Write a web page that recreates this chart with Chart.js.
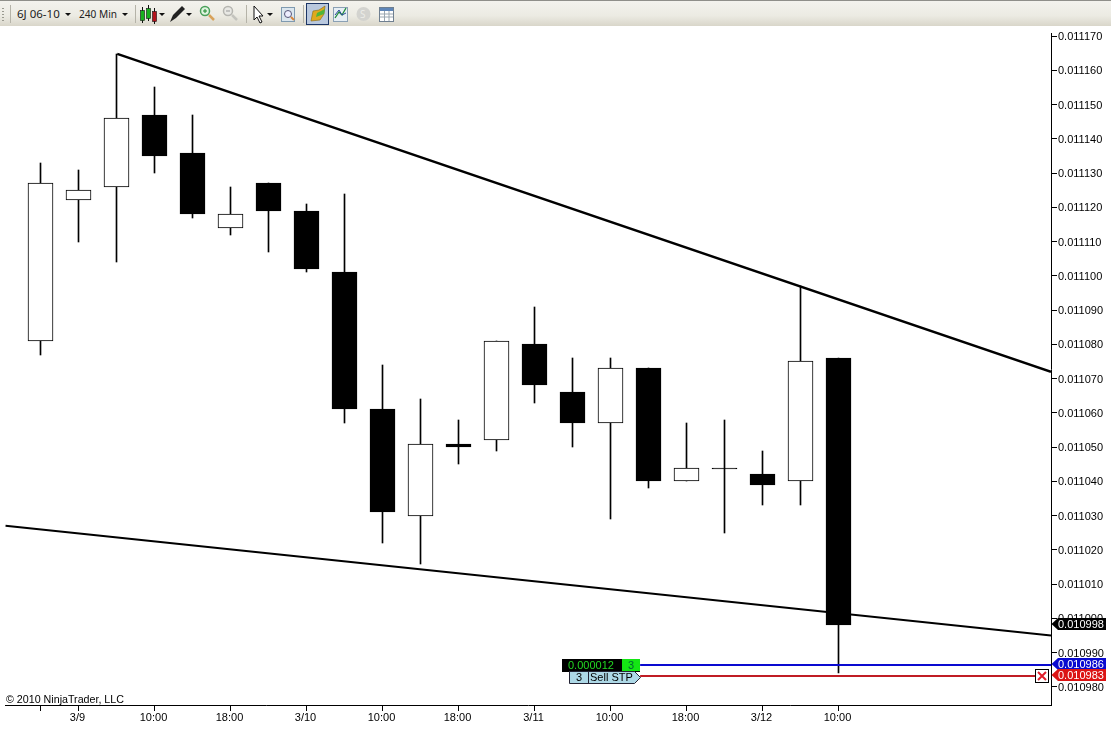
<!DOCTYPE html>
<html>
<head>
<meta charset="utf-8">
<title>6J 06-10 240 Min</title>
<script src="https://cdn.jsdelivr.net/npm/chart.js@4"></script>
<style>
  html, body { margin: 0; padding: 0; background: #fff; overflow: hidden; }
  #wrap { position: relative; width: 1111px; height: 730px; }
  #toolbar { position: absolute; left: 0; top: 0; }
  #priceChart { position: absolute; left: 0; top: 0; }
</style>
</head>
<body>
<div id="wrap">
  <canvas id="priceChart" width="1111" height="730"></canvas>
  <svg id="toolbar" width="1111" height="27" font-family="'Noto Sans','Liberation Sans',sans-serif" font-size="11.5">
    <defs>
      <linearGradient id="barBg" x1="0" y1="0" x2="0" y2="1">
        <stop offset="0" stop-color="#f4f3ee"/>
        <stop offset="0.6" stop-color="#ecebe3"/>
        <stop offset="1" stop-color="#d9d6ca"/>
      </linearGradient>
    </defs>
    <rect width="1111" height="26" fill="url(#barBg)"/>
    <rect width="1111" height="1" fill="#8f8f8a"/>
    <path d="M3 8v1M3 11v1M3 14v1M3 17v1M3 20v1" stroke="#9a9a90" stroke-width="2"/>
    <path d="M10.5 5v18M135.5 5v18M246.5 5v18M303.5 5v18" stroke="#b5b3a8"/>
    <text x="17" y="18" fill="#222">6J 06-10</text>
    <path d="M65 13h6l-3 3z" fill="#111"/>
    <text x="79" y="18" fill="#222" textLength="38" lengthAdjust="spacingAndGlyphs">240 Min</text>
    <path d="M122 13h6l-3 3z" fill="#111"/>
    <path d="M142.500 7v16M148.500 5v16M154.500 8v16" stroke="#111"/>
    <rect x="140.500" y="10.500" width="4" height="10" fill="#17b11d" stroke="#111" stroke-width=".6"/>
    <rect x="146.500" y="8.500" width="4" height="10" fill="#17b11d" stroke="#111" stroke-width=".6"/>
    <rect x="152.500" y="11.500" width="4" height="10" fill="#b3141c" stroke="#111" stroke-width=".6"/>
    <path d="M159 13h6l-3 3z" fill="#111"/>
    <path d="M170 22l3-7 9-9 3 3-9 9z" fill="#222"/>
    <path d="M186 13h6l-3 3z" fill="#111"/>
    <circle cx="205" cy="11" r="4.500" fill="#dff3df" stroke="#4aa05a" stroke-width="1.500"/>
    <path d="M203 11h4M205 9v4" stroke="#1c8a2c"/>
    <path d="M209 15l5 5" stroke="#d8a25a" stroke-width="2.500"/>
    <circle cx="228" cy="11" r="4.500" fill="#e8e8e4" stroke="#b5b5b0" stroke-width="1.500"/>
    <path d="M226 11h4" stroke="#999"/>
    <path d="M232 15l5 5" stroke="#c4c4be" stroke-width="2.500"/>
    <path d="M254 6v14l3-3 3 6 2-1-3-6h4z" fill="#fff" stroke="#111"/>
    <path d="M267 13h6l-3 3z" fill="#111"/>
    <rect x="281.500" y="7.500" width="13" height="14" fill="#dbe6ee" stroke="#7f9ab0"/>
    <circle cx="288" cy="14" r="3.500" fill="#eef" stroke="#557"/>
    <path d="M291 17l3 3" stroke="#d8853a" stroke-width="2"/>
    <rect x="306.500" y="3.500" width="22" height="21" fill="#b9c8de" stroke="#1c3566"/>
    <path d="M311 21l2-10 6-1 6-4-1 8-4 6z" fill="#e0a91e" stroke="#8a6a10" stroke-width=".6"/>
    <path d="M317 13l8-4-1 5-8 3z" fill="#4fb53a"/>
    <rect x="333.500" y="7.500" width="14" height="14" fill="#e6eef4" stroke="#8aa0b4"/>
    <path d="M335 18l4-6 3 3 4-7" fill="none" stroke="#1f8a3a" stroke-width="1.300"/>
    <path d="M335 15l4-5 3 5 4-2" fill="none" stroke="#2a4a9a"/>
    <circle cx="363.500" cy="14" r="7" fill="#d3d3cf"/>
    <text x="360" y="18" fill="#ecece8" font-size="10">S</text>
    <rect x="379.500" y="7.500" width="14" height="14" fill="#fff" stroke="#6f7f90"/>
    <rect x="380" y="8" width="13" height="3" fill="#5f86b8"/>
    <path d="M380 14h13M380 17h13M384.500 11v10M389 11v10" stroke="#9aa6b0"/>
  </svg>
</div>
<script>
// bar positions along the time axis
const candleIndex = [0, 1, 2, 3, 4, 5, 6, 7, 8, 9, 10, 11, 12, 13, 14, 15, 16, 17, 18, 19, 20, 21];

const opens  = [0.011081, 0.011122, 0.011126, 0.011147, 0.011136, 0.011114, 0.011127, 0.011119, 0.011101, 0.011061, 0.011030, 0.011051, 0.011052, 0.011080, 0.011066, 0.011057, 0.011073, 0.011040, 0.011044, 0.011042, 0.011040, 0.011076];
const closes = [0.011127, 0.011125, 0.011146, 0.011135, 0.011118, 0.011118, 0.011119, 0.011102, 0.011061, 0.011031, 0.011051, 0.011050, 0.011081, 0.011068, 0.011057, 0.011073, 0.011040, 0.011044, 0.011044, 0.011039, 0.011075, 0.010998];
const highs  = [0.011133, 0.011131, 0.0111648, 0.011155, 0.011147, 0.011126, 0.011127, 0.011121, 0.011124, 0.011074, 0.011064, 0.011058, 0.011081, 0.011091, 0.011076, 0.011076, 0.011073, 0.011057, 0.011058, 0.011049, 0.011097, 0.011076];
const lows   = [0.011077, 0.011110, 0.011104, 0.011130, 0.011117, 0.011112, 0.011107, 0.011101, 0.011057, 0.011022, 0.011016, 0.011045, 0.011049, 0.011063, 0.011050, 0.011029, 0.011038, 0.011040, 0.011025, 0.011033, 0.011033, 0.010984];

const xTickIndex  = [0, 1, 3, 5, 7, 9, 11, 13, 15, 17, 19, 21];
const xTickLabels = ['', '3/9', '10:00', '18:00', '3/10', '10:00', '18:00', '3/11', '10:00', '18:00', '3/12', '10:00'];
const yTickValues = [0.01117, 0.01116, 0.01115, 0.01114, 0.01113, 0.01112, 0.01111, 0.0111, 0.01109, 0.01108, 0.01107, 0.01106, 0.01105, 0.01104, 0.01103, 0.01102, 0.01101, 0.011, 0.01099, 0.01098];

// trend lines drawn on the chart
const upperTrendX = [2.02, 26.592];
const upperTrendY = [0.0111648, 0.011072];
const lowerTrendX = [-0.92, 26.592];
const lowerTrendY = [0.011027, 0.010995];

// working orders
const stopX = [15.78, 26.592];
const stopY = [0.0109864, 0.0109864];
const sellX = [15.78, 26.2];
const sellY = [0.0109832, 0.0109832];

const lastPrice = 0.010998;
const priceFlags = [
  { value: stopY[0], label: '0.010986', color: '#0a0ad0' },
  { value: sellY[0], label: '0.010983', color: '#dc1414' },
  { value: lastPrice, label: '0.010998', color: '#000000' }
];
const orderPnl = '0.000012';
const orderQty = '3';
const orderName = 'Sell STP';

function pairs(xs, ys) {
  return xs.map((x, i) => ({ x: x, y: ys[i] }));
}

const fontName = "'Liberation Sans', Arial, sans-serif";

// keep candle edges on whole pixels so they stay crisp
const crispBarsPlugin = {
  id: 'crispBars',
  afterDatasetsUpdate(chart) {
    chart.getSortedVisibleDatasetMetas().forEach(meta => {
      if (meta.type !== 'bar') return;
      meta.data.forEach(bar => {
        bar.y = Math.round(bar.y);
        bar.base = Math.round(bar.base);
        if (bar.y === bar.base) bar.base = bar.y + 1;
      });
    });
  }
};

// price flags, order boxes and the copyright line
const overlayPlugin = {
  id: 'overlay',
  afterDraw(chart) {
    const ctx = chart.ctx;
    const yScale = chart.scales.y;
    const xScale = chart.scales.x;
    const area = chart.chartArea;
    ctx.save();

    ctx.font = '10.7px ' + fontName;
    ctx.fillStyle = '#000';
    ctx.textBaseline = 'alphabetic';
    ctx.textAlign = 'left';
    ctx.fillText('\u00A9 2010 NinjaTrader, LLC', 6, 703);

    priceFlags.forEach(flag => {
      const y = Math.round(yScale.getPixelForValue(flag.value)) - 1;
      ctx.fillStyle = flag.color;
      ctx.beginPath();
      ctx.moveTo(area.right + 0.5, y);
      ctx.lineTo(area.right + 7, y - 6);
      ctx.lineTo(1106, y - 6);
      ctx.lineTo(1106, y + 6);
      ctx.lineTo(area.right + 7, y + 6);
      ctx.closePath();
      ctx.fill();
      ctx.fillStyle = '#fff';
      ctx.font = '11px ' + fontName;
      ctx.textAlign = 'left';
      ctx.textBaseline = 'middle';
      ctx.fillText(flag.label, 1058, y + 1);
    });

    const stopPx = Math.round(yScale.getPixelForValue(stopY[0]));
    const sellPx = Math.round(yScale.getPixelForValue(sellY[0]));
    const boxRight = Math.round(xScale.getPixelForValue(stopX[0]));

    // pnl box on the stop line
    ctx.fillStyle = '#000';
    ctx.fillRect(boxRight - 78, stopPx - 6, 78, 13);
    ctx.fillStyle = '#14e614';
    ctx.fillRect(boxRight - 18, stopPx - 6, 18, 12);
    ctx.fillStyle = '#22d622';
    ctx.textBaseline = 'middle';
    ctx.textAlign = 'left';
    ctx.fillText(orderPnl, boxRight - 72, stopPx + 1);
    ctx.fillStyle = '#063';
    ctx.textAlign = 'center';
    ctx.fillText(orderQty, boxRight - 9, stopPx + 1);

    // order box on the sell line
    ctx.fillStyle = '#add8e6';
    ctx.strokeStyle = '#223';
    ctx.lineWidth = 1;
    ctx.beginPath();
    ctx.moveTo(boxRight - 70.5, sellPx - 4.5);
    ctx.lineTo(boxRight - 5.5, sellPx - 4.5);
    ctx.lineTo(boxRight + 0.5, sellPx + 1.5);
    ctx.lineTo(boxRight - 5.5, sellPx + 7.5);
    ctx.lineTo(boxRight - 70.5, sellPx + 7.5);
    ctx.closePath();
    ctx.fill();
    ctx.stroke();
    ctx.beginPath();
    ctx.moveTo(boxRight - 51.5, sellPx - 4.5);
    ctx.lineTo(boxRight - 51.5, sellPx + 7.5);
    ctx.stroke();
    ctx.fillStyle = '#000';
    ctx.textAlign = 'center';
    ctx.fillText(orderQty, boxRight - 61, sellPx + 2);
    ctx.textAlign = 'left';
    ctx.fillText(orderName, boxRight - 50, sellPx + 2);

    // close button at the end of the sell line
    const cx = 1042;
    ctx.fillStyle = '#fff';
    ctx.strokeStyle = '#000';
    ctx.fillRect(cx - 6.5, sellPx - 6.5, 13, 13);
    ctx.strokeRect(cx - 6.5, sellPx - 6.5, 13, 13);
    ctx.strokeStyle = '#e01e2a';
    ctx.lineWidth = 2;
    ctx.beginPath();
    ctx.moveTo(cx - 4, sellPx - 4);
    ctx.lineTo(cx + 4, sellPx + 4);
    ctx.moveTo(cx + 4, sellPx - 4);
    ctx.lineTo(cx - 4, sellPx + 4);
    ctx.stroke();

    ctx.restore();
  }
};

function drawChart() {
  const ctx = document.getElementById('priceChart').getContext('2d');
  new Chart(ctx, {
    type: 'bar',
    plugins: [crispBarsPlugin, overlayPlugin],
    data: {
      datasets: [
        {
          type: 'line',
          label: 'Upper trend',
          data: pairs(upperTrendX, upperTrendY),
          borderColor: '#000',
          borderWidth: 2.5,
          pointRadius: 0,
          order: 1
        },
        {
          type: 'line',
          label: 'Lower trend',
          data: pairs(lowerTrendX, lowerTrendY),
          borderColor: '#000',
          borderWidth: 2,
          pointRadius: 0,
          order: 1
        },
        {
          type: 'line',
          label: 'Stop',
          data: pairs(stopX, stopY),
          borderColor: '#0a0ad0',
          borderWidth: 2,
          pointRadius: 0,
          order: 1
        },
        {
          type: 'line',
          label: 'Sell',
          data: pairs(sellX, sellY),
          borderColor: '#c01c24',
          borderWidth: 2,
          pointRadius: 0,
          order: 1
        },
        {
          label: 'Body',
          data: candleIndex.map((x, i) => ({ x: x, y: [opens[i], closes[i]] })),
          backgroundColor: closes.map((c, i) => (c > opens[i] ? '#fff' : '#000')),
          borderColor: '#000',
          borderWidth: 1,
          borderSkipped: false,
          barThickness: 25,
          grouped: false,
          order: 2
        },
        {
          label: 'Wick',
          data: candleIndex.map((x, i) => ({ x: x, y: [lows[i], highs[i]] })),
          backgroundColor: '#000',
          borderWidth: 0,
          barThickness: 1,
          grouped: false,
          order: 3
        }
      ]
    },
    options: {
      responsive: false,
      animation: false,
      layout: { padding: { left: 5, top: 33, right: 0, bottom: 0 } },
      plugins: {
        legend: { display: false },
        tooltip: { enabled: false }
      },
      scales: {
        x: {
          type: 'linear',
          min: -0.9342,
          max: 26.5921,
          offset: false,
          afterBuildTicks(scale) {
            scale.ticks = xTickIndex.map(v => ({ value: v }));
          },
          afterFit(scale) {
            scale.height = 25;
          },
          border: { display: true, color: '#000', width: 1 },
          grid: { offset: false, drawOnChartArea: false, drawTicks: true, tickLength: 6, tickColor: '#000' },
          ticks: {
            autoSkip: false,
            maxRotation: 0,
            padding: 0,
            labelOffset: -1,
            color: '#000',
            font: { family: fontName, size: 11 },
            callback(value) {
              return xTickLabels[xTickIndex.indexOf(value)];
            }
          }
        },
        y: {
          position: 'right',
          min: 0.0109747,
          max: 0.0111709,
          afterBuildTicks(scale) {
            scale.ticks = yTickValues.map(v => ({ value: v }));
          },
          afterFit(scale) {
            scale.width = 60;
          },
          border: { display: true, color: '#000', width: 1 },
          grid: { drawOnChartArea: false, drawTicks: true, tickLength: 6, tickColor: '#000' },
          ticks: {
            autoSkip: false,
            padding: 1,
            labelOffset: 1,
            color: '#000',
            font: { family: fontName, size: 11 },
            callback(value) {
              return value.toFixed(6);
            }
          }
        }
      }
    }
  });
}

document.addEventListener('DOMContentLoaded', drawChart);
</script>
</body>
</html>
